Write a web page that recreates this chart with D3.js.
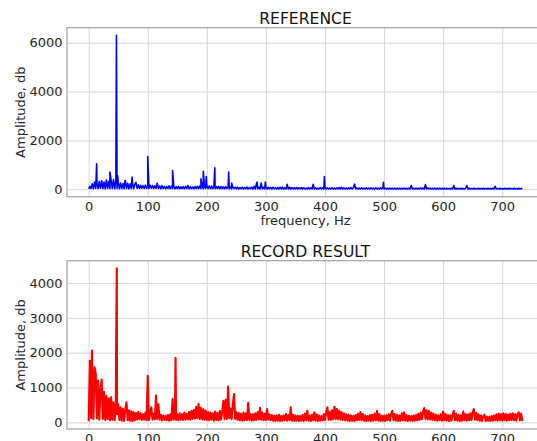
<!DOCTYPE html>
<html>
<head>
<meta charset="utf-8">
<script src="https://cdn.jsdelivr.net/npm/d3@7"></script>
<style>
  body { margin: 0; background: #fff; }
  svg { display: block; font-family: "DejaVu Sans", sans-serif; }
</style>
</head>
<body>
<div id="chart"></div>
<script>
// spectra, one value every 2 Hz starting at 0 Hz
const binStep = 2;

const refAmp = [
  20, 120, 30, 220, 20, 300, 40, 260, 30, 330,
  40, 350, 30, 300, 20, 380, 40, 320, 30, 360,
  30, 400, 20, 350, 30, 300, 20, 250, 30, 230,
  20, 360, 30, 240, 20, 220, 30, 300, 20, 200,
  280, 40, 180, 30, 160, 40, 150, 30, 170, 40,
  120, 30, 160, 40, 150, 30, 140, 40, 250, 30,
  130, 20, 150, 30, 120, 20, 110, 30, 140, 20,
  120, 30, 130, 20, 110, 30, 120, 20, 100, 30,
  110, 20, 120, 30, 150, 20, 100, 30, 90, 20,
  110, 30, 120, 20, 130, 30, 140, 20, 120, 30,
  150, 30, 140, 20, 130, 30, 120, 20, 110, 30,
  120, 20, 110, 30, 100, 20, 110, 30, 90, 20,
  100, 20, 90, 30, 80, 20, 90, 10, 70, 20,
  80, 10, 70, 20, 90, 10, 70, 20, 80, 10,
  120, 10, 230, 20, 90, 10, 250, 20, 80, 10,
  90, 10, 80, 20, 70, 10, 90, 20, 60, 10,
  70, 10, 80, 10, 90, 10, 60, 10, 200, 10,
  80, 10, 70, 10, 60, 10, 70, 10, 60, 10,
  70, 10, 60, 10, 50, 10, 70, 10, 60, 10,
  200, 10, 60, 10, 50, 10, 70, 10, 60, 10,
  70, 10, 60, 10, 50, 10, 60, 10, 50, 10,
  60, 10, 70, 10, 80, 10, 60, 10, 50, 10,
  60, 10, 70, 10, 60, 210, 10, 60, 10, 50,
  10, 60, 10, 50, 10, 60, 10, 50, 10, 60,
  10, 50, 10, 60, 10, 50, 10, 60, 10, 70,
  10, 50, 10, 40, 10, 50, 10, 40, 10, 50,
  10, 40, 10, 50, 10, 40, 10, 50, 10, 40,
  10, 50, 10, 150, 10, 40, 10, 50, 10, 40,
  10, 60, 10, 50, 10, 190, 10, 60, 10, 50,
  10, 40, 10, 50, 10, 40, 10, 50, 10, 40,
  10, 50, 10, 40, 10, 30, 10, 40, 10, 150,
  10, 40, 10, 30, 10, 40, 10, 30, 10, 40,
  150, 10, 40, 10, 30, 10, 40, 10, 30, 10,
  40, 10, 30, 10, 40, 10, 30, 10, 40, 10,
  30, 10, 40, 10, 120, 10, 30, 10, 40, 10,
  30, 10, 40, 10, 30, 10, 40, 10, 30, 10,
  40, 10, 30, 10, 40, 10, 30, 10
];
// isolated spikes [Hz, amplitude]
const refPeaks = [
  [13.5, 1040], [36, 700], [47, 6300], [49, 560], [61.5, 360], [73.5, 500],
  [80, 280], [100, 1340], [142, 770], [190, 425], [194, 740], [199, 520],
  [213.5, 880], [237, 700], [242, 250], [285, 290], [299, 300], [399, 520], [499, 290]
];

const recAmp = [
  30, 1770, 120, 1650, 90, 1580, 1390, 110, 1200, 80,
  960, 1230, 100, 880, 70, 760, 90, 690, 60, 720,
  80, 580, 60, 560, 240, 520, 70, 430, 50, 390,
  40, 380, 580, 60, 350, 50, 320, 40, 300, 60,
  270, 80, 300, 90, 260, 70, 240, 80, 280, 60,
  1340, 70, 260, 430, 80, 250, 90, 770, 100, 520,
  80, 220, 60, 200, 70, 190, 60, 210, 50, 230,
  60, 670, 80, 250, 70, 230, 60, 260, 80, 240,
  70, 280, 80, 250, 90, 300, 70, 330, 100, 360,
  110, 450, 120, 530, 100, 420, 90, 380, 80, 340,
  70, 300, 60, 280, 80, 260, 50, 310, 70, 270,
  60, 330, 80, 290, 620, 90, 650, 100, 1025, 120,
  400, 90, 520, 815, 100, 300, 70, 270, 60, 250,
  50, 280, 60, 260, 70, 560, 70, 240, 50, 230,
  60, 260, 70, 300, 90, 420, 80, 280, 60, 250,
  70, 384, 80, 230, 60, 210, 50, 190, 40, 200,
  50, 220, 40, 180, 50, 200, 60, 240, 50, 210,
  60, 430, 50, 220, 40, 200, 50, 190, 40, 180,
  50, 210, 40, 250, 60, 330, 50, 200, 40, 220,
  60, 290, 50, 230, 40, 200, 50, 180, 60, 240,
  70, 280, 430, 80, 300, 70, 350, 90, 450, 100,
  380, 90, 340, 80, 300, 70, 260, 60, 230, 50,
  220, 40, 200, 50, 190, 40, 210, 60, 250, 70,
  300, 60, 240, 50, 200, 40, 180, 50, 210, 40,
  220, 50, 250, 60, 330, 50, 240, 40, 200, 50,
  190, 40, 210, 60, 230, 50, 250, 330, 60, 240,
  50, 220, 40, 200, 50, 260, 60, 290, 50, 210,
  40, 190, 50, 180, 40, 200, 50, 220, 60, 250,
  70, 280, 90, 310, 410, 100, 350, 90, 330, 80,
  280, 70, 250, 60, 220, 50, 200, 60, 230, 50,
  310, 60, 240, 50, 210, 40, 200, 50, 220, 330,
  60, 250, 50, 220, 40, 200, 50, 310, 60, 240,
  50, 230, 60, 260, 70, 300, 380, 80, 270, 60,
  230, 50, 200, 40, 180, 220, 40, 170, 50, 160,
  40, 180, 50, 200, 60, 230, 50, 250, 60, 240,
  50, 260, 60, 240, 50, 220, 60, 250, 70, 260,
  60, 240, 50, 230, 290, 60, 250, 40
];
const recPeaks = [[5.6, 2060], [46.4, 2050], [47.6, 4420], [147, 1850]];

const xTicks = [0, 100, 200, 300, 400, 500, 600, 700];
const refYTicks = [0, 2000, 4000, 6000];
const recYTicks = [0, 1000, 2000, 3000, 4000];

const W = 537, H = 441;
const left = 67, right = 544;

function buildSeries(amp, peaks) {
  const pts = amp.map(function(a, i) { return {f: i * binStep, a: a}; });
  peaks.forEach(function(p) { pts.push({f: p[0], a: p[1]}); });
  pts.sort(function(u, v) { return u.f - v.f; });
  return pts;
}

// matplotlib style 5% padding
function padded(ext) {
  const p = (ext[1] - ext[0]) * 0.05;
  return [ext[0] - p, ext[1] + p];
}

const svg = d3.select("#chart").append("svg")
  .attr("width", W)
  .attr("height", H);
svg.append("rect").attr("width", W).attr("height", H).attr("fill", "#fff");

const panels = [
  {title: "REFERENCE", xLabel: "frequency, Hz", top: 27.7, bottom: 196.7,
   data: buildSeries(refAmp, refPeaks), yTicks: refYTicks, color: "#0000ff", lw: 1.6},
  {title: "RECORD RESULT", xLabel: null, top: 260.7, bottom: 429,
   data: buildSeries(recAmp, recPeaks), yTicks: recYTicks, color: "#ff0000", lw: 2.1}
];

panels.forEach(function(p) {
  const x = d3.scaleLinear()
    .domain(padded(d3.extent(p.data, function(d) { return d.f; })))
    .range([left, right]);
  const y = d3.scaleLinear()
    .domain(padded(d3.extent(p.data, function(d) { return d.a; })))
    .range([p.bottom, p.top]);
  const g = svg.append("g");

  // grid
  g.append("g")
    .attr("transform", "translate(0," + p.bottom + ")")
    .call(d3.axisBottom(x).tickValues(xTicks).tickSize(-(p.bottom - p.top)).tickFormat(""))
    .call(function(s) { s.select(".domain").remove(); })
    .selectAll("line").attr("stroke", "#d6d6d6").attr("stroke-width", 1);
  g.append("g")
    .attr("transform", "translate(" + left + ",0)")
    .call(d3.axisLeft(y).tickValues(p.yTicks).tickSize(-(right - left)).tickFormat(""))
    .call(function(s) { s.select(".domain").remove(); })
    .selectAll("line").attr("stroke", "#d6d6d6").attr("stroke-width", 1);

  // spectrum
  g.append("path")
    .datum(p.data)
    .attr("fill", "none")
    .attr("stroke", p.color)
    .attr("stroke-width", p.lw)
    .attr("stroke-linejoin", "round")
    .attr("d", d3.line().x(function(d) { return x(d.f); }).y(function(d) { return y(d.a); }));

  // frame
  g.append("rect")
    .attr("x", left).attr("y", p.top)
    .attr("width", right - left).attr("height", p.bottom - p.top)
    .attr("fill", "none").attr("stroke", "#a0a0a0").attr("stroke-width", 1.2);

  // tick labels
  const xa = g.append("g")
    .attr("transform", "translate(0," + p.bottom + ")")
    .call(d3.axisBottom(x).tickValues(xTicks).tickSize(0).tickPadding(5).tickFormat(d3.format("d")));
  xa.select(".domain").remove();
  const ya = g.append("g")
    .attr("transform", "translate(" + left + ",0)")
    .call(d3.axisLeft(y).tickValues(p.yTicks).tickSize(0).tickPadding(4.5).tickFormat(d3.format("d")));
  ya.select(".domain").remove();
  g.selectAll(".tick text")
    .attr("font-family", "DejaVu Sans, sans-serif")
    .attr("font-size", 13)
    .attr("fill", "#262626");

  g.append("text")
    .attr("x", (left + right) / 2)
    .attr("y", p.top - 3.5)
    .attr("text-anchor", "middle")
    .attr("font-size", 15.6)
    .attr("fill", "#111")
    .text(p.title);

  g.append("text")
    .attr("transform", "translate(25," + (p.top + p.bottom) / 2 + ") rotate(-90)")
    .attr("text-anchor", "middle")
    .attr("font-size", 13)
    .attr("fill", "#262626")
    .text("Amplitude, db");

  if (p.xLabel) {
    g.append("text")
      .attr("x", (left + right) / 2)
      .attr("y", p.bottom + 28)
      .attr("text-anchor", "middle")
      .attr("font-size", 13)
      .attr("fill", "#262626")
      .text(p.xLabel);
  }
});
</script>
</body>
</html>
